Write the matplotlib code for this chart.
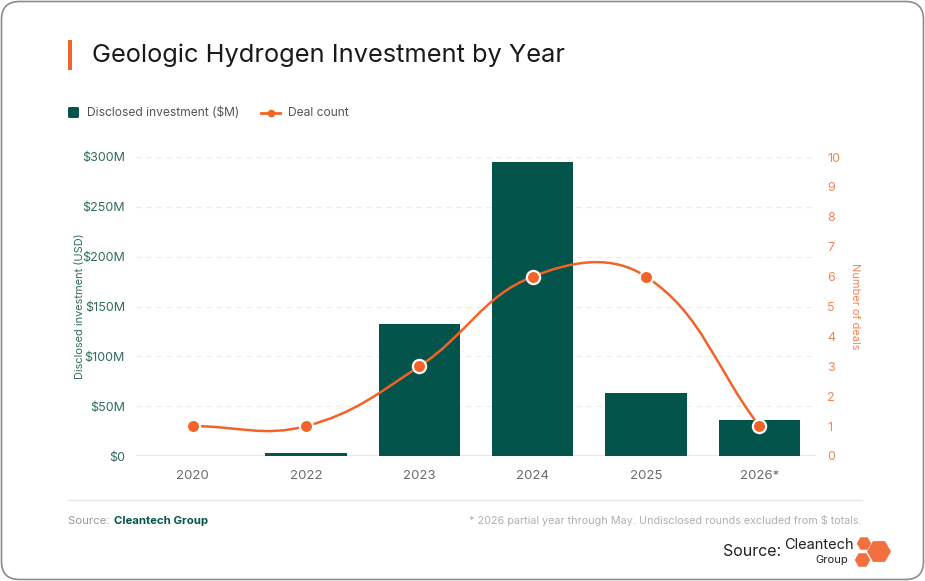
import numpy as np
import matplotlib.pyplot as plt
from matplotlib.patches import FancyBboxPatch, Rectangle, RegularPolygon
from matplotlib.path import Path
from matplotlib.patches import PathPatch
from matplotlib.lines import Line2D

plt.rcParams['font.family'] = ['Inter', 'DejaVu Sans']

# Data
years = ['2020', '2022', '2023', '2024', '2025', '2026*']
investment_musd = [0, 3, 132, 295, 63, 36]
deal_count = [1, 1, 3, 6, 6, 1]

left_ticks = [0, 50, 100, 150, 200, 250, 300]
left_tick_labels = ['$0', '$50M', '$100M', '$150M', '$200M', '$250M', '$300M']
right_ticks = list(range(0, 11))

BAR = '#03544A'
ORANGE = '#F26327'
TEAL_TXT = '#2F6B5F'
ORANGE_TXT = '#F08456'
GRAY_TXT = '#6B6B6B'

W, H = 925, 581
fig = plt.figure(figsize=(W / 100, H / 100), dpi=100)

# background card in pixel coordinates
bg = fig.add_axes([0, 0, 1, 1], zorder=-1)
bg.set_xlim(0, W)
bg.set_ylim(H, 0)
bg.axis('off')
bg.add_patch(FancyBboxPatch((1.5, 1.5), W - 3, H - 3,
                            boxstyle='round,pad=0,rounding_size=18',
                            facecolor='white', edgecolor='#8c8c8c', lw=1.2))

# title with accent bar
bg.add_patch(Rectangle((68, 40), 3.5, 30, color=ORANGE, lw=0))
bg.text(92, 55, 'Geologic Hydrogen Investment by Year', fontsize=18.3,
        color='#1a1a1a', va='center', ha='left')

# legend
bg.add_patch(FancyBboxPatch((68, 107), 11, 11, boxstyle='round,pad=0,rounding_size=1.5',
                            color=BAR, lw=0))
bg.text(87, 113, 'Disclosed investment ($M)', fontsize=8.7, color='#555555', va='center')
bg.add_line(Line2D([261, 280], [113, 113], color=ORANGE, lw=2))
bg.plot([270.5], [113], 'o', color=ORANGE, ms=4.5)
bg.text(288, 113, 'Deal count', fontsize=8.7, color='#555555', va='center')

# footer
bg.add_line(Line2D([68, 862], [500, 500], color='#e6e6e6', lw=1))
bg.text(68, 521, 'Source: ', fontsize=8.2, color='#9a9a9a', va='center')
bg.text(114, 521, 'Cleantech Group', fontsize=8.2, color=BAR, va='center', fontweight='bold')
bg.text(862, 521, '* 2026 partial year through May. Undisclosed rounds excluded from $ totals.',
        fontsize=7.8, color='#b0b0b0', va='center', ha='right')

# logo
bg.text(723, 552, 'Source:', fontsize=11.5, color='#222222', va='center')
bg.text(784, 545, 'Cleantech', fontsize=10.5, color='#222222', va='center')
bg.text(815, 560, 'Group', fontsize=8, color='#222222', va='center')
for cx, cy, r in [(864, 543.5, 7.2), (879, 551.5, 12), (862.5, 560, 7.8)]:
    bg.add_patch(RegularPolygon((cx, cy), 6, radius=r, orientation=np.pi / 6,
                                color='#F2703F', lw=0))

# main chart
ax = fig.add_axes([136 / W, 1 - 456 / H, 680 / W, 299 / H])
ax.patch.set_alpha(0)
x = np.arange(len(years))
ax.bar(x, investment_musd, width=0.715, color=BAR, zorder=2)
ax.set_xlim(-0.5, len(years) - 0.5)
ax.set_ylim(0, 300)
ax.set_yticks(left_ticks)
ax.set_yticklabels(left_tick_labels)
ax.set_xticks(x)
ax.set_xticklabels(years)
for yv in left_ticks[1:]:
    ax.axhline(yv, color='#ececec', lw=0.9, ls=(0, (4, 4)), zorder=0)
ax.axhline(0, color='#e3e3e3', lw=1.2, zorder=1)
for s in ax.spines.values():
    s.set_visible(False)
ax.tick_params(axis='y', length=0, pad=8, labelsize=9, labelcolor=TEAL_TXT)
ax.tick_params(axis='x', length=0, pad=10, labelsize=9.5, labelcolor=GRAY_TXT)
ax.set_ylabel('Disclosed investment (USD)', fontsize=7.9, color=TEAL_TXT, labelpad=-2)

ax2 = ax.twinx()
ax2.set_ylim(0, 10)
ax2.set_yticks(right_ticks)
for s in ax2.spines.values():
    s.set_visible(False)
ax2.tick_params(axis='y', length=0, pad=8, labelsize=9, labelcolor=ORANGE_TXT)
ax2.set_ylabel('Number of deals', fontsize=7.9, color=ORANGE_TXT, rotation=270, labelpad=14)

# smooth curve (cubic bezier, tension 0.4) computed in display space
fig.canvas.draw()
pts = ax2.transData.transform(np.column_stack([x, deal_count]))
tension = 0.4
n = len(pts)
cps_prev, cps_next = [], []
for i in range(n):
    p0 = pts[i - 1] if i > 0 else pts[i]
    p1 = pts[i]
    p2 = pts[i + 1] if i < n - 1 else pts[i]
    d01 = np.hypot(*(p1 - p0))
    d12 = np.hypot(*(p2 - p1))
    tot = d01 + d12
    fa = tension * d01 / tot if tot else 0
    fb = tension * d12 / tot if tot else 0
    cps_prev.append(p1 - fa * (p2 - p0))
    cps_next.append(p1 + fb * (p2 - p0))
verts = [pts[0]]
codes = [Path.MOVETO]
for i in range(n - 1):
    verts += [cps_next[i], cps_prev[i + 1], pts[i + 1]]
    codes += [Path.CURVE4] * 3
verts = ax2.transData.inverted().transform(np.array(verts))
ax2.add_patch(PathPatch(Path(verts, codes), facecolor='none', edgecolor=ORANGE,
                        lw=1.8, zorder=3))
ax2.plot(x, deal_count, 'o', color=ORANGE, ms=9.5, mec='white', mew=1.6, zorder=4)

fig.savefig('out.png', dpi=100)
